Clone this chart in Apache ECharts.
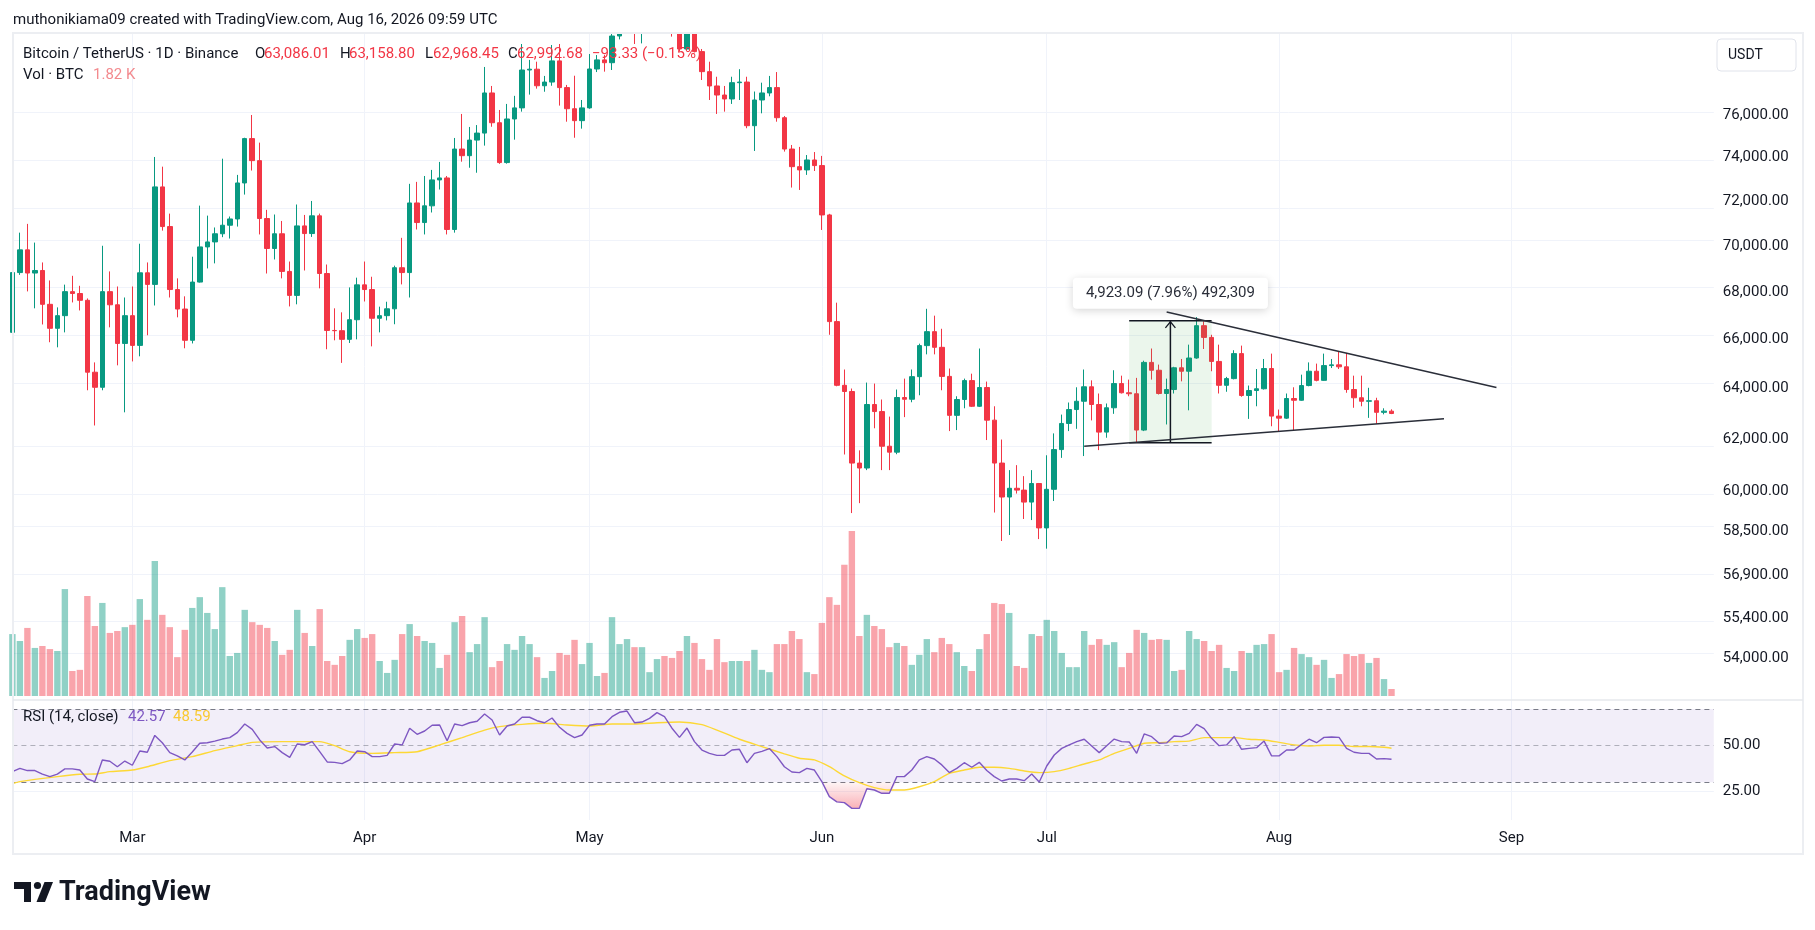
<!DOCTYPE html>
<html>
<head>
<meta charset="utf-8">
<title>BTCUSDT 1D</title>
<script src="https://cdn.jsdelivr.net/npm/echarts@6/dist/echarts.min.js"></script>
<style>
  html, body { margin: 0; padding: 0; background: #ffffff; }
  #chart { width: 1815px; height: 930px; }
</style>
</head>
<body>
<div id="chart"></div>
<script>
// daily candles, Feb 13 .. Aug 16 2026 (axis runs on to Sep 28)
const firstDay = [2026, 1, 13];
const dayCount = 228;

const open = [
  66290, 68830, 69820, 68810, 68920, 67470, 66460, 66990, 68010, 67930,
  67640, 64650, 64040, 68010, 67450, 65830, 66990, 65750, 68820, 68320,
  72640, 70850, 68100, 67270, 65960, 68420, 69950, 70170, 70530, 70910,
  71190, 72820, 74880, 73850, 71210, 69880, 70530, 68880, 67850, 70880,
  70540, 71330, 68790, 66370, 66360, 66000, 66820, 68300, 68100, 66880,
  66990, 67280, 69040, 68830, 71910, 71030, 71780, 72960, 73050, 70720,
  74390, 74080, 74810, 75140, 77060, 75630, 73760, 75810, 76340, 78180,
  78220, 77410, 77590, 78630, 77320, 76300, 75730, 76340, 78230, 78680,
  78540, 79870, 81300, 82100, 80500, 81600, 82200, 82600, 81500, 80600,
  79220, 80900, 79090, 78100, 77400, 76960, 76770, 77560, 77590, 75490,
  76720, 77060, 77320, 75870, 74390, 73570, 73420, 73880, 73620, 71370,
  66740, 64120, 63870, 61060, 60870, 63350, 63070, 61710, 61480, 63630,
  63560, 64470, 65740, 66320, 65670, 64480, 62920, 63550, 64310, 63280,
  64030, 62730, 61060, 59770, 60100, 60030, 59580, 60280, 58620, 60060,
  61580, 62600, 63150, 63480, 64060, 63350, 62260, 63220, 64190, 63820,
  63780, 62340, 65050, 64730, 63790, 63950, 64830, 64690, 65230, 66570,
  66080, 65090, 64120, 64390, 65410, 63710, 63910, 63980, 64800, 62890,
  62810, 63590, 63520, 64110, 64690, 64320, 64920, 64950, 64870, 63950,
  63620, 63480, 63500, 63040, 63086.01
];
const high = [
  69000, 70580, 70970, 70140, 69270, 68490, 67340, 68310, 68690, 68260,
  67720, 65050, 70000, 68880, 68230, 67760, 68230, 70090, 69270, 74020,
  73570, 71430, 68580, 67810, 69520, 71790, 71340, 70810, 73940, 71300,
  73190, 74920, 76000, 74690, 71600, 71390, 71100, 69310, 71840, 71370,
  72000, 71430, 69180, 67300, 67130, 68190, 68610, 69310, 68650, 67370,
  67580, 69130, 70350, 72780, 72870, 73140, 73420, 73790, 73140, 74910,
  76050, 75430, 75520, 78330, 77400, 76240, 76530, 76920, 79470, 78680,
  78590, 77890, 79420, 79470, 77450, 77900, 76720, 78970, 78920, 78920,
  80600, 81900, 82600, 82500, 82000, 82700, 83100, 82900, 82000, 81000,
  81300, 81400, 79220, 78590, 77850, 77400, 77850, 78220, 77850, 77130,
  77560, 77890, 78080, 75950, 74580, 74490, 74110, 74250, 74070, 71420,
  67540, 64760, 63990, 61550, 64230, 64190, 63550, 62870, 63950, 64390,
  64760, 65820, 67280, 66990, 66440, 64800, 63680, 64390, 64590, 65620,
  64270, 63280, 61970, 60790, 60980, 60560, 60790, 60300, 61360, 62210,
  62950, 63430, 64040, 64760, 64320, 63790, 63390, 64730, 64510, 64350,
  64420, 65120, 65620, 64960, 64390, 64870, 65190, 65780, 66930, 66750,
  66190, 65780, 64460, 65550, 65740, 64110, 64780, 65190, 65410, 63150,
  63790, 64040, 64550, 65050, 65000, 65410, 65190, 65500, 65440, 64510,
  64510, 64020, 63620, 63200, 63158.80
];
const low = [
  66200, 68730, 68020, 67300, 66620, 65880, 65670, 66290, 67550, 67210,
  63920, 62520, 63920, 66500, 64930, 63040, 65090, 65300, 66170, 67420,
  70670, 67760, 66920, 65630, 65830, 68400, 69010, 69230, 70380, 70320,
  70850, 72290, 73390, 70500, 68790, 69400, 68580, 67380, 67470, 68920,
  70390, 68150, 65590, 65960, 65030, 65850, 66000, 67590, 65710, 66290,
  66790, 66630, 68320, 67760, 70720, 70500, 71480, 72520, 70500, 70580,
  73800, 73520, 73290, 74550, 75440, 73700, 73710, 74830, 76160, 76980,
  77270, 77120, 77410, 76450, 75680, 74920, 75350, 76300, 78080, 78100,
  78180, 79700, 80600, 79470, 79500, 80900, 81500, 80700, 79840, 79100,
  79150, 79050, 77690, 76720, 76050, 76160, 76530, 76720, 75370, 74300,
  76080, 76900, 75680, 74270, 72610, 72500, 73190, 73370, 70700, 66190,
  64080, 61390, 59170, 59540, 60790, 62410, 60790, 60790, 61400, 62850,
  63440, 63720, 65380, 65380, 63920, 62300, 62340, 63200, 63250, 63250,
  61950, 59190, 58140, 58360, 59900, 58950, 58910, 58210, 57860, 59620,
  61260, 62300, 62390, 61330, 62720, 61560, 62040, 62980, 63790, 63680,
  61870, 62300, 64350, 63750, 62560, 63790, 64280, 63120, 65200, 65600,
  64690, 63790, 63860, 64360, 63660, 62780, 63280, 63950, 62490, 62300,
  62780, 62320, 63500, 64080, 64280, 64300, 64820, 64780, 63820, 63220,
  63280, 62820, 62590, 62960, 62968.45
];
const close = [
  68830, 69820, 68810, 68920, 67470, 66460, 66990, 68010, 67930, 67640,
  64650, 64040, 68010, 67450, 65830, 66990, 65750, 68820, 68320, 72640,
  70850, 68100, 67270, 65960, 68420, 69950, 70170, 70530, 70910, 71190,
  72820, 74880, 73850, 71210, 69880, 70530, 68880, 67850, 70880, 70540,
  71330, 68790, 66370, 66360, 66000, 66820, 68300, 68100, 66880, 66990,
  67280, 69040, 68830, 71910, 71030, 71780, 72960, 73050, 70720, 74390,
  74080, 74810, 75140, 77060, 75630, 73760, 75810, 76340, 78180, 78220,
  77410, 77590, 78630, 77320, 76300, 75730, 76340, 78230, 78680, 78540,
  79870, 81300, 82100, 80500, 81600, 82200, 82600, 81500, 80600, 79220,
  80900, 79090, 78100, 77400, 76960, 76770, 77560, 77590, 75490, 76720,
  77060, 77320, 75870, 74390, 73570, 73420, 73880, 73620, 71370, 66740,
  64120, 63870, 61060, 60870, 63350, 63070, 61710, 61480, 63630, 63560,
  64470, 65740, 66320, 65670, 64480, 62920, 63550, 64310, 63280, 64030,
  62730, 61060, 59770, 60100, 60030, 59580, 60280, 58620, 60060, 61580,
  62600, 63150, 63480, 64060, 63350, 62260, 63220, 64190, 63820, 63780,
  62340, 65050, 64730, 63790, 63950, 64830, 64690, 65230, 66570, 66080,
  65090, 64120, 64390, 65410, 63710, 63910, 63980, 64800, 62890, 62810,
  63590, 63520, 64110, 64690, 64320, 64920, 64950, 64870, 63950, 63620,
  63480, 63500, 63040, 63086.01, 62992.68
];
// volume in thousands of BTC
const volume = [
  16.1, 14.3, 17.7, 12.5, 13.0, 12.2, 11.7, 27.8, 6.5, 6.8,
  26.0, 18.2, 24.2, 16.4, 16.9, 17.9, 18.5, 25.2, 19.8, 35.1,
  21.1, 17.9, 10.1, 17.2, 22.9, 25.7, 21.6, 17.4, 28.3, 10.4,
  11.2, 22.4, 19.2, 18.5, 17.7, 14.3, 10.7, 12.0, 22.4, 16.4,
  13.0, 22.6, 9.1, 8.1, 10.4, 14.6, 17.4, 15.1, 16.1, 9.1,
  6.0, 9.4, 16.1, 18.7, 15.6, 14.3, 13.8, 7.3, 10.7, 19.2,
  20.8, 11.4, 13.5, 20.5, 7.5, 9.1, 13.5, 12.0, 15.6, 13.5,
  10.1, 4.7, 6.5, 11.2, 10.7, 14.6, 8.3, 13.8, 5.2, 6.0,
  20.5, 13.5, 14.8, 12.7, 12.7, 6.2, 9.6, 10.4, 9.9, 11.7,
  15.6, 13.8, 9.6, 6.8, 14.8, 8.8, 9.1, 9.1, 9.1, 12.0,
  6.8, 6.2, 13.5, 13.5, 16.9, 14.8, 6.2, 5.7, 19.0, 25.7,
  23.7, 34.1, 42.9, 15.6, 21.1, 18.2, 17.4, 12.7, 13.8, 13.0,
  8.1, 10.7, 14.8, 11.4, 15.1, 13.5, 11.4, 7.8, 6.5, 12.2,
  16.1, 24.2, 23.9, 21.6, 7.8, 7.3, 16.1, 15.6, 19.8, 16.9,
  11.2, 7.5, 7.5, 16.9, 13.3, 14.8, 13.3, 14.0, 7.5, 11.2,
  17.2, 16.4, 14.6, 14.8, 14.6, 6.5, 6.8, 16.9, 14.8, 14.3,
  11.7, 13.3, 7.3, 6.5, 11.7, 11.2, 13.3, 13.5, 16.1, 6.2,
  6.8, 12.5, 10.9, 10.1, 8.1, 9.4, 4.7, 5.7, 10.9, 10.4,
  10.9, 8.6, 9.9, 4.4, 1.82
];
const rsi = [
  35.8, 37.6, 36.4, 36.4, 34.5, 33.1, 34.5, 37.3, 37.3, 36.7,
  31.8, 30.4, 42.2, 41.5, 38.5, 41.6, 39.3, 47.1, 46.4, 55.6,
  51.6, 46.2, 44.4, 42.2, 46.5, 51.3, 51.6, 52.5, 53.6, 54.4,
  57.1, 61.8, 58.9, 53.1, 48.7, 49.5, 46.2, 43.6, 50.9, 50.5,
  52.2, 46.7, 41.1, 40.9, 40.2, 42.2, 47.1, 46.7, 44.0, 44.0,
  44.7, 50.9, 50.4, 59.5, 56.2, 58.0, 61.1, 61.3, 52.7, 61.8,
  60.9, 62.5, 63.3, 67.3, 64.0, 55.8, 60.7, 61.8, 65.5, 65.5,
  63.6, 62.5, 65.1, 60.0, 56.7, 54.4, 55.8, 61.1, 61.8, 61.8,
  65.8, 68.2, 68.9, 62.5, 62.9, 64.9, 68.0, 65.8, 59.5, 54.5,
  59.6, 52.2, 47.6, 45.8, 44.7, 44.7, 47.6, 48.0, 40.7, 45.8,
  46.9, 48.4, 44.0, 38.5, 35.6, 35.3, 37.6, 36.7, 30.4, 22.2,
  19.3, 18.9, 15.8, 15.8, 26.5, 25.8, 24.0, 24.0, 33.1, 33.1,
  36.7, 42.2, 44.0, 42.7, 39.5, 35.3, 37.6, 40.7, 38.2, 40.9,
  36.4, 33.1, 30.7, 31.8, 31.8, 30.9, 34.5, 30.2, 38.9, 44.9,
  48.5, 50.4, 52.2, 53.5, 49.8, 46.2, 50.0, 53.6, 52.2, 52.0,
  45.8, 56.4, 54.9, 51.3, 51.5, 55.3, 54.9, 56.7, 61.6, 59.3,
  54.0, 50.0, 50.4, 54.9, 48.0, 48.5, 48.9, 52.5, 44.4, 44.4,
  47.6, 47.6, 50.7, 53.5, 51.6, 54.5, 54.7, 54.5, 48.5, 46.4,
  45.8, 45.8, 42.7, 42.9, 42.57
];
// RSI moving average, read at these day indexes
const rsiMaDay = [
  0, 1, 6, 9, 11, 13, 16, 18, 21, 24, 27, 30, 32, 36, 41, 43, 45, 48, 51, 54,
  57, 60, 63, 65, 68, 71, 74, 77, 80, 83, 86, 89, 92, 94, 97, 100, 103, 105, 107, 109,
  111, 113, 115, 117, 119, 121, 123, 125, 127, 129, 131, 133, 135, 137, 139, 141, 143, 145, 147, 149,
  151, 153, 155, 157, 159, 161, 163, 165, 167, 169, 171, 173, 175, 177, 179, 181, 183, 184
];
const rsiMaVal = [
  29.3, 30.4, 33.1, 34.4, 34.5, 35.8, 36.7, 38.5, 41.8, 44.0, 47.3, 50.0, 51.8, 52.2, 52.2, 50.0, 46.7, 45.8, 46.2, 46.7,
  50.4, 54.4, 58.5, 60.4, 61.6, 62.2, 61.3, 60.7, 61.8, 61.8, 62.5, 62.9, 61.5, 58.5, 53.5, 49.5, 45.5, 43.1, 42.2, 38.5,
  33.5, 29.8, 27.1, 25.8, 25.8, 27.6, 30.4, 34.9, 36.7, 38.2, 38.2, 37.6, 36.2, 35.3, 35.8, 37.6, 40.0, 42.2, 45.8, 48.5,
  51.3, 51.6, 52.2, 52.5, 54.4, 54.4, 54.4, 53.5, 53.1, 51.8, 50.4, 49.8, 50.2, 50.2, 49.5, 49.5, 49.1, 48.59
];

const priceTicks = [54000, 55400, 56900, 58500, 60000, 62000, 64000, 66000, 68000, 70000, 72000, 74000, 76000];
const priceRange = [52608, 80021];
const rsiTicks = [25, 50];
const rsiRange = [9.43, 74.91];
const rsiBands = [30, 50, 70];
const volumeMax = 52;
const monthNames = ['Jan', 'Feb', 'Mar', 'Apr', 'May', 'Jun', 'Jul', 'Aug', 'Sep', 'Oct', 'Nov', 'Dec'];

// drawings
const measureDates = ['2026-07-12', '2026-07-23'];
const measurePrices = [61848.00, 66771.09];
const trendUpper = [['2026-07-17', 67143], ['2026-08-30', 64028]];
const trendLower = [['2026-07-06', 61711], ['2026-08-23', 62783]];

const dates = [];
for (let k = 0; k < dayCount; k++) {
  const d = new Date(Date.UTC(firstDay[0], firstDay[1], firstDay[2] + k));
  dates.push(d.toISOString().slice(0, 10));
}
const n = close.length;
const ln = Math.log;
const up = '#089981', down = '#F23645', ink = '#131722', gridColor = '#F0F3FA';
const fontFamily = "Roboto, 'Liberation Sans', sans-serif";
const fmt = v => v.toLocaleString('en-US', { minimumFractionDigits: 2, maximumFractionDigits: 2 });
const isMonthStart = (idx, val) => val.slice(8) === '01';

const candles = open.map((o, k) => [ln(o), ln(close[k]), ln(low[k]), ln(high[k])]);
const volData = volume.map((v, k) => ({
  value: v,
  itemStyle: { color: close[k] >= open[k] ? 'rgba(8,153,129,0.45)' : 'rgba(242,54,69,0.45)' }
}));
const rsiMa = rsi.map(() => null);
rsiMaDay.forEach((d, k) => { rsiMa[d] = rsiMaVal[k]; });
const osBase = rsi.map(v => Math.min(v, 30));
const osFill = rsi.map(v => 30 - Math.min(v, 30));

const chg = close[n - 1] - close[n - 2];
const chgPct = chg / close[n - 2] * 100;
const minus = v => (v < 0 ? '\u2212' : '+');
const chgText = minus(chg) + Math.abs(chg).toFixed(2) + ' (' + minus(chg) + Math.abs(chgPct).toFixed(2) + '%)';

const chart = echarts.init(document.getElementById('chart'));

function txt(text, x, y, color, size, weight) {
  return {
    type: 'text', x: x, y: y, z: 100, silent: true,
    style: { text: text, fill: color, font: (weight || 'normal') + ' ' + (size || 15) + 'px ' + fontFamily, verticalAlign: 'middle' }
  };
}

const xBase = {
  type: 'category', data: dates, boundaryGap: false,
  axisLine: { show: false }, axisTick: { show: false }
};

chart.setOption({
  animation: false,
  backgroundColor: '#ffffff',
  textStyle: { fontFamily: fontFamily },
  grid: [
    { left: 12.4, right: 101.2, top: 33, height: 667 },
    { left: 12.4, right: 101.2, top: 496, height: 200 },
    { left: 12.4, right: 101.2, top: 700, height: 120 }
  ],
  xAxis: [
    Object.assign({}, xBase, {
      gridIndex: 0, axisLabel: { show: false },
      splitLine: { show: true, interval: isMonthStart, lineStyle: { color: gridColor, width: 1 } }
    }),
    Object.assign({}, xBase, { gridIndex: 1, axisLabel: { show: false }, splitLine: { show: false } }),
    Object.assign({}, xBase, {
      gridIndex: 2,
      axisLabel: {
        interval: isMonthStart, color: ink, fontSize: 15, margin: 11,
        formatter: v => monthNames[Number(v.slice(5, 7)) - 1]
      },
      splitLine: { show: true, interval: isMonthStart, lineStyle: { color: gridColor, width: 1 } }
    })
  ],
  yAxis: [
    {
      type: 'value', gridIndex: 0, position: 'right',
      min: ln(priceRange[0]), max: ln(priceRange[1]),
      axisLine: { show: false },
      axisTick: { show: false, customValues: priceTicks.map(ln) },
      splitLine: { show: false },
      axisLabel: {
        customValues: priceTicks.map(ln), color: ink, fontSize: 15, margin: 9,
        formatter: v => fmt(Math.round(Math.exp(v)))
      }
    },
    { type: 'value', gridIndex: 1, min: 0, max: volumeMax, show: false },
    {
      type: 'value', gridIndex: 2, position: 'right',
      min: rsiRange[0], max: rsiRange[1],
      axisLine: { show: false },
      axisTick: { show: false, customValues: rsiTicks },
      splitLine: { show: false },
      axisLabel: { customValues: rsiTicks, color: ink, fontSize: 15, margin: 9, formatter: v => v.toFixed(2) }
    }
  ],
  series: [
    {
      // horizontal price grid lines
      type: 'line', xAxisIndex: 0, yAxisIndex: 0, data: [], z: 0, silent: true,
      markLine: {
        z: 0, silent: true, symbol: 'none', label: { show: false },
        lineStyle: { color: gridColor, width: 1, type: 'solid' },
        data: priceTicks.map(p => ({ yAxis: ln(p) }))
      }
    },
    {
      type: 'bar', xAxisIndex: 1, yAxisIndex: 1, data: volData,
      barWidth: 6.4, z: 1, clip: true, silent: true
    },
    {
      type: 'candlestick', xAxisIndex: 0, yAxisIndex: 0, data: candles,
      barWidth: 5, z: 2, clip: true, silent: true,
      itemStyle: { color: up, color0: down, borderColor: up, borderColor0: down, borderWidth: 1 },
      markLine: {
        z: 6, silent: true, symbol: 'none',
        label: { show: false },
        lineStyle: { color: '#2A2E39', width: 1.5, type: 'solid' },
        data: [
          [{ coord: [trendUpper[0][0], ln(trendUpper[0][1])] }, { coord: [trendUpper[1][0], ln(trendUpper[1][1])] }],
          [{ coord: [trendLower[0][0], ln(trendLower[0][1])] }, { coord: [trendLower[1][0], ln(trendLower[1][1])] }],
          {
            yAxis: ln(close[n - 1]), lineStyle: { opacity: 0 },
            label: {
              show: true, position: 'end', distance: 0, formatter: fmt(close[n - 1]),
              color: '#ffffff', backgroundColor: down, padding: [3, 8], fontSize: 15
            }
          }
        ]
      }
    },
    {
      // price range measurement
      type: 'custom', xAxisIndex: 0, yAxisIndex: 0, z: 5, silent: true,
      encode: { x: [0, 1], y: [2, 3] },
      data: [[measureDates[0], measureDates[1], ln(measurePrices[0]), ln(measurePrices[1])]],
      renderItem: function (params, api) {
        const a = api.coord([api.value(0), api.value(3)]);
        const b = api.coord([api.value(1), api.value(2)]);
        const midX = (a[0] + b[0]) / 2;
        const diff = measurePrices[1] - measurePrices[0];
        const label = fmt(diff) + ' (' + (diff / measurePrices[0] * 100).toFixed(2) + '%) ' +
          Math.round(diff * 100).toLocaleString('en-US');
        const stroke = { stroke: '#131722', lineWidth: 1.5 };
        return {
          type: 'group',
          children: [
            { type: 'rect', shape: { x: a[0], y: a[1], width: b[0] - a[0], height: b[1] - a[1] }, style: { fill: 'rgba(76,175,80,0.11)' } },
            { type: 'line', shape: { x1: a[0], y1: a[1], x2: b[0], y2: a[1] }, style: stroke },
            { type: 'line', shape: { x1: a[0], y1: b[1], x2: b[0], y2: b[1] }, style: stroke },
            { type: 'line', shape: { x1: midX, y1: b[1], x2: midX, y2: a[1] }, style: stroke },
            { type: 'polyline', shape: { points: [[midX - 5, a[1] + 7], [midX, a[1] + 1], [midX + 5, a[1] + 7]] }, style: { stroke: '#131722', lineWidth: 1.3, fill: null } },
            {
              type: 'text', x: midX, y: a[1] - 12,
              style: {
                text: label, align: 'center', verticalAlign: 'bottom',
                fill: '#2A2E39', font: '15px ' + fontFamily,
                backgroundColor: '#ffffff', padding: [8, 13], borderRadius: 4,
                shadowBlur: 8, shadowColor: 'rgba(0,0,0,0.16)', shadowOffsetY: 2
              }
            }
          ]
        };
      }
    },
    {
      // RSI band, levels, oversold base
      type: 'line', xAxisIndex: 2, yAxisIndex: 2, data: osBase, stack: 'os',
      symbol: 'none', lineStyle: { opacity: 0 }, z: 1, silent: true,
      markArea: { z: 0, silent: true, itemStyle: { color: 'rgba(126,87,194,0.1)' }, data: [[{ yAxis: rsiBands[0] }, { yAxis: rsiBands[2] }]] },
      markLine: {
        z: 2, silent: true, symbol: 'none', label: { show: false },
        lineStyle: { color: '#787B86', width: 1, type: [5, 4] },
        data: [
          { yAxis: rsiBands[2] },
          { yAxis: rsiBands[1], lineStyle: { color: 'rgba(120,123,134,0.55)' } },
          { yAxis: rsiBands[0] },
          { yAxis: rsiTicks[0], lineStyle: { type: 'solid', color: gridColor } }
        ]
      }
    },
    {
      type: 'line', xAxisIndex: 2, yAxisIndex: 2, data: osFill, stack: 'os',
      symbol: 'none', lineStyle: { opacity: 0 }, z: 2, silent: true,
      areaStyle: {
        color: new echarts.graphic.LinearGradient(0, 0, 0, 1, [
          { offset: 0, color: 'rgba(242,54,69,0.08)' },
          { offset: 1, color: 'rgba(242,54,69,0.55)' }
        ])
      }
    },
    {
      type: 'line', xAxisIndex: 2, yAxisIndex: 2, data: rsiMa, connectNulls: true, smooth: 0.2,
      symbol: 'none', lineStyle: { color: '#FDD835', width: 1.4 }, z: 3, silent: true
    },
    {
      type: 'line', xAxisIndex: 2, yAxisIndex: 2, data: rsi,
      symbol: 'none', lineStyle: { color: '#7E57C2', width: 1.4 }, z: 4, silent: true
    }
  ],
  graphic: [
    // keeps the May candles inside the pane, as the pane edge cuts them
    { type: 'rect', z: 80, silent: true, shape: { x: 0, y: 0, width: 1815, height: 33 }, style: { fill: '#ffffff' } },
    { type: 'rect', z: 90, silent: true, shape: { x: 13, y: 33, width: 1790, height: 821 }, style: { fill: null, stroke: '#ECEEF2', lineWidth: 2 } },
    { type: 'line', z: 90, silent: true, shape: { x1: 13, y1: 700, x2: 1803, y2: 700 }, style: { stroke: '#E6E8EC', lineWidth: 1.5 } },
    txt('muthonikiama09 created with TradingView.com, Aug 16, 2026 09:59 UTC', 13, 20, ink),
    txt('Bitcoin / TetherUS \u00b7 1D \u00b7 Binance', 23, 54, ink),
    txt('O', 255, 54, ink), txt(fmt(open[n - 1]), 264, 54, down),
    txt('H', 340, 54, ink), txt(fmt(high[n - 1]), 349, 54, down),
    txt('L', 425, 54, ink), txt(fmt(low[n - 1]), 433, 54, down),
    txt('C', 508, 54, ink), txt(fmt(close[n - 1]), 517, 54, down),
    txt(chgText, 592, 54, down),
    txt('Vol \u00b7 BTC', 23, 75, ink),
    txt(volume[n - 1].toFixed(2) + ' K', 93, 75, '#F38A8E'),
    txt('RSI (14, close)', 23, 717, ink),
    txt(rsi[n - 1].toFixed(2), 128, 717, '#7E57C2'),
    txt(rsiMa[n - 1].toFixed(2), 173, 717, '#F9C933'),
    { type: 'rect', z: 95, silent: true, shape: { x: 1717, y: 39, width: 79, height: 32, r: 4 }, style: { fill: '#ffffff', stroke: '#E0E3EB', lineWidth: 1 } },
    txt('USDT', 1728, 55, ink, 14),
    { type: 'rect', z: 100, silent: true, shape: { x: 14, y: 882, width: 17, height: 7 }, style: { fill: ink } },
    { type: 'rect', z: 100, silent: true, shape: { x: 24, y: 882, width: 7, height: 20 }, style: { fill: ink } },
    { type: 'circle', z: 100, silent: true, shape: { cx: 37.5, cy: 885.5, r: 3.6 }, style: { fill: ink } },
    { type: 'polygon', z: 100, silent: true, shape: { points: [[44.5, 882], [53, 882], [45, 902], [36.5, 902]] }, style: { fill: ink } },
    txt('TradingView', 59, 893, ink, 27, 'bold')
  ]
});
</script>
</body>
</html>
